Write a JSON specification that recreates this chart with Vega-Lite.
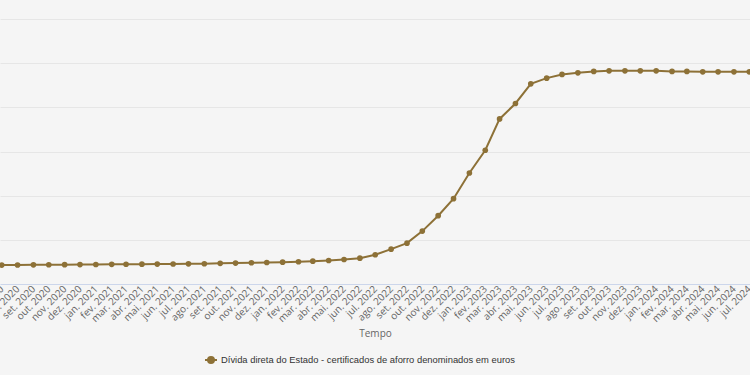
{
  "$schema": "https://vega.github.io/schema/vega-lite/v6.json",
  "width": 750,
  "height": 265,
  "autosize": {"type": "none"},
  "padding": {"left": 0, "top": 19, "right": 0, "bottom": 91},
  "background": "#f5f5f5",
  "config": {"view": {"stroke": null}, "font": "Open Sans"},
  "data": {
    "values": [
      {"mes": "2020-06-01", "valor": 12132},
      {"mes": "2020-07-01", "valor": 12143},
      {"mes": "2020-08-01", "valor": 12155},
      {"mes": "2020-09-01", "valor": 12166},
      {"mes": "2020-10-01", "valor": 12177},
      {"mes": "2020-11-01", "valor": 12189},
      {"mes": "2020-12-01", "valor": 12200},
      {"mes": "2021-01-01", "valor": 12211},
      {"mes": "2021-02-01", "valor": 12223},
      {"mes": "2021-03-01", "valor": 12234},
      {"mes": "2021-04-01", "valor": 12245},
      {"mes": "2021-05-01", "valor": 12257},
      {"mes": "2021-06-01", "valor": 12268},
      {"mes": "2021-07-01", "valor": 12279},
      {"mes": "2021-08-01", "valor": 12291},
      {"mes": "2021-09-01", "valor": 12336},
      {"mes": "2021-10-01", "valor": 12370},
      {"mes": "2021-11-01", "valor": 12404},
      {"mes": "2021-12-01", "valor": 12438},
      {"mes": "2022-01-01", "valor": 12472},
      {"mes": "2022-02-01", "valor": 12517},
      {"mes": "2022-03-01", "valor": 12585},
      {"mes": "2022-04-01", "valor": 12665},
      {"mes": "2022-05-01", "valor": 12778},
      {"mes": "2022-06-01", "valor": 12926},
      {"mes": "2022-07-01", "valor": 13311},
      {"mes": "2022-08-01", "valor": 13946},
      {"mes": "2022-09-01", "valor": 14627},
      {"mes": "2022-10-01", "valor": 15988},
      {"mes": "2022-11-01", "valor": 17734},
      {"mes": "2022-12-01", "valor": 19662},
      {"mes": "2023-01-01", "valor": 22565},
      {"mes": "2023-02-01", "valor": 25139},
      {"mes": "2023-03-01", "valor": 28688},
      {"mes": "2023-04-01", "valor": 30435},
      {"mes": "2023-05-01", "valor": 32657},
      {"mes": "2023-06-01", "valor": 33304},
      {"mes": "2023-07-01", "valor": 33723},
      {"mes": "2023-08-01", "valor": 33905},
      {"mes": "2023-09-01", "valor": 34063},
      {"mes": "2023-10-01", "valor": 34131},
      {"mes": "2023-11-01", "valor": 34131},
      {"mes": "2023-12-01", "valor": 34131},
      {"mes": "2024-01-01", "valor": 34131},
      {"mes": "2024-02-01", "valor": 34063},
      {"mes": "2024-03-01", "valor": 34063},
      {"mes": "2024-04-01", "valor": 34018},
      {"mes": "2024-05-01", "valor": 34018},
      {"mes": "2024-06-01", "valor": 34018},
      {"mes": "2024-07-01", "valor": 34018},
      {"mes": "2024-08-01", "valor": 34000}
    ]
  },
  "encoding": {
    "x": {
      "field": "mes",
      "type": "temporal",
      "title": "Tempo",
      "scale": {
        "type": "utc",
        "domain": [
          {"year": 2020, "month": 6, "date": 27, "hours": 16, "minutes": 20, "utc": true},
          {"year": 2024, "month": 7, "date": 2, "hours": 9, "utc": true}
        ]
      },
      "axis": {
        "tickCount": {"interval": "month", "step": 1},
        "labelExpr": "['jan','fev','mar','abr','mai','jun','jul','ago','set','out','nov','dez'][utcmonth(datum.value)] + '. ' + utcyear(datum.value)",
        "labelAngle": -45,
        "labelAlign": "right",
        "labelBaseline": "middle",
        "labelFontSize": 10,
        "labelColor": "#666666",
        "labelPadding": 3,
        "labelOverlap": false,
        "labelBound": false,
        "labelFlush": false,
        "ticks": false,
        "grid": false,
        "domainColor": "#ccd6eb",
        "domainWidth": 1,
        "titleFontSize": 10,
        "titleColor": "#666666",
        "titleFontWeight": "normal",
        "titlePadding": 5
      }
    },
    "y": {
      "field": "valor",
      "type": "quantitative",
      "title": null,
      "scale": {"domain": [10000, 40000], "nice": false, "zero": false},
      "axis": {
        "values": [15000, 20000, 25000, 30000, 35000, 40000],
        "labels": false,
        "ticks": false,
        "domain": false,
        "grid": true,
        "gridColor": "#e6e6e6",
        "gridWidth": 1
      }
    },
    "color": {
      "datum": "Dívida direta do Estado - certificados de aforro denominados em euros",
      "type": "nominal",
      "scale": {"range": ["#8d7137"]},
      "legend": {
        "title": null,
        "orient": "none",
        "legendX": 204,
        "legendY": 334,
        "direction": "horizontal",
        "symbolType": "M-1,0H1M-0.5,0A0.5,0.5,0,1,1,0.5,0A0.5,0.5,0,1,1,-0.5,0Z",
        "symbolSize": 144,
        "symbolStrokeWidth": 2,
        "symbolFillColor": "#8d7137",
        "symbolStrokeColor": "#8d7137",
        "symbolOpacity": 1,
        "labelFont": "Liberation Sans",
        "labelFontSize": 9.4,
        "labelColor": "#333333",
        "labelOffset": 3,
        "labelLimit": 0
      }
    }
  },
  "layer": [
    {"mark": {"type": "line", "strokeWidth": 2, "clip": true}},
    {"mark": {"type": "point", "filled": true, "size": 32, "opacity": 1, "clip": true}}
  ]
}
